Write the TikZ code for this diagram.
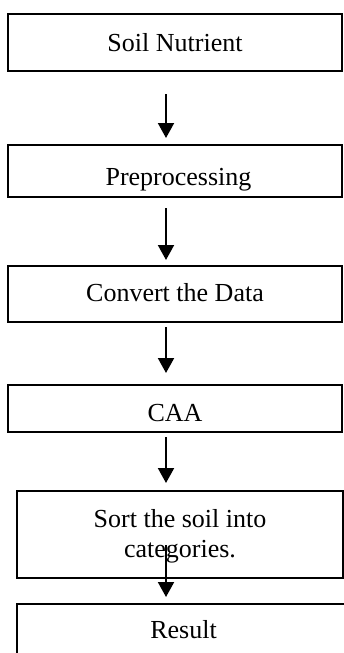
\documentclass[tikz,border=0pt]{standalone}
\usepackage{fontspec}
\setmainfont{Liberation Serif}
\usetikzlibrary{arrows.meta}
\tikzset{
  box/.style={draw=black, line width=2pt, inner sep=0pt, fill=none},
  lbl/.style={inner sep=0pt, anchor=base, font=\fontsize{26pt}{30pt}\selectfont},
  arr/.style={line width=2pt, -{Triangle[length=15pt,width=16pt]}}
}
\begin{document}
\begin{tikzpicture}
\useasboundingbox (0,0) rectangle (344pt,-653pt);
\begin{scope}
\clip (0,0) rectangle (344pt,-653pt);
% boxes
\node[box, minimum width=334pt, minimum height=57pt] (b1) at (175pt,-42.5pt) {};
\node[box, minimum width=334pt, minimum height=52pt] (b2) at (175pt,-171pt) {};
\node[box, minimum width=334pt, minimum height=56pt] (b3) at (175pt,-294pt) {};
\node[box, minimum width=334pt, minimum height=47pt] (b4) at (175pt,-408.5pt) {};
\node[box, minimum width=326pt, minimum height=87pt] (b5) at (180pt,-534.5pt) {};
\node[box, minimum width=345pt, minimum height=96pt] (b6) at (189.5pt,-652pt) {};
% texts
\node[lbl] (t1) at (175pt,-51.7pt) {Soil Nutrient};
\node[lbl] (t2) at (178.5pt,-185pt) {Preprocessing};
\node[lbl] (t3) at (175pt,-301.7pt) {Convert the Data};
\node[lbl] (t4) at (175pt,-421.7pt) {CAA};
\node[lbl, anchor=north, align=center] (t5) at (180pt,-508.9pt) {Sort the soil into\\categories.};
\node[lbl] (t6) at (183.5pt,-638pt) {Result};
% arrows
\coordinate (s1) at (166pt,-94pt);  \coordinate (e1) at (166pt,-138pt);
\coordinate (s2) at (166pt,-208pt); \coordinate (e2) at (166pt,-260pt);
\coordinate (s3) at (166pt,-327pt); \coordinate (e3) at (166pt,-373pt);
\coordinate (s4) at (166pt,-437pt); \coordinate (e4) at (166pt,-483pt);
\coordinate (s5) at (166pt,-545pt); \coordinate (e5) at (166pt,-597pt);
\draw[arr] (s1) -- (e1);
\draw[arr] (s2) -- (e2);
\draw[arr] (s3) -- (e3);
\draw[arr] (s4) -- (e4);
\draw[arr] (s5) -- (e5);
\end{scope}
\end{tikzpicture}
\end{document}
